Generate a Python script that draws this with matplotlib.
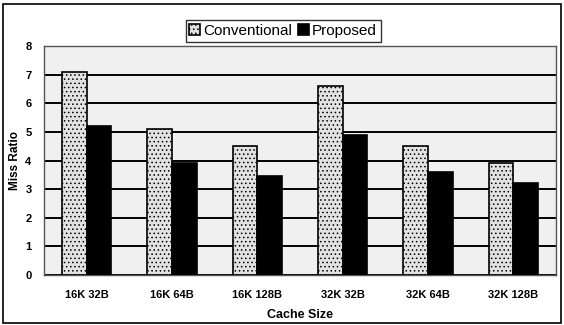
import numpy as np
import matplotlib
matplotlib.use("Agg")
import matplotlib.pyplot as plt
from matplotlib.patches import Rectangle

# miss ratio per cache configuration
cache_sizes = ['16K 32B', '16K 64B', '16K 128B', '32K 32B', '32K 64B', '32K 128B']
conventional = [7.1, 5.1, 4.5, 6.6, 4.5, 3.9]
proposed = [5.2, 3.9, 3.45, 4.9, 3.6, 3.2]

plt.rcParams['font.family'] = ['Liberation Sans', 'DejaVu Sans']
plt.rcParams['hatch.color'] = '#8a8a8a'
plt.rcParams['hatch.linewidth'] = 0.6

fig = plt.figure(figsize=(5.64, 3.25), dpi=100)
ax = fig.add_axes([0.078, 0.154, 0.908, 0.704])

x = np.arange(len(cache_sizes))
w = 0.29
ax.set_facecolor('#f0f0f0')
ax.bar(x - w / 2, conventional, w, color='#e2e2e2', edgecolor='black',
       linewidth=1.2, hatch='....', label='Conventional', zorder=3)
ax.bar(x + w / 2, proposed, w, color='black', edgecolor='black',
       linewidth=1.2, label='Proposed', zorder=3)

ax.set_xlim(-0.5, len(cache_sizes) - 0.5)
ax.set_ylim(0, 8)
ax.set_yticks(range(0, 9))
ax.yaxis.grid(True, color='black', linewidth=1.4, zorder=1)
ax.set_axisbelow(True)
ax.tick_params(length=0, labelsize=8)
ax.tick_params(axis='x', pad=11)
ax.tick_params(axis='y', pad=9)
ax.set_xticks(x)
ax.set_xticklabels(cache_sizes, fontweight='bold')
for t in ax.get_yticklabels():
    t.set_fontweight('bold')
for s in ax.spines.values():
    s.set_color('#555555')
    s.set_linewidth(1.0)

ax.set_ylabel('Miss Ratio', fontsize=8.5, fontweight='bold')
ax.yaxis.set_label_coords(-0.045, 0.5)
ax.set_xlabel('Cache Size', fontsize=9, fontweight='bold', labelpad=6)

leg = fig.legend(loc='upper center', bbox_to_anchor=(0.502, 0.962), ncol=2,
                 frameon=True, fontsize=11, handlelength=0.7, handleheight=0.7,
                 handletextpad=0.2, columnspacing=0.4, borderpad=0.25,
                 fancybox=False, edgecolor='black')
leg.get_frame().set_linewidth(1.0)

# outer frame around the whole chart
fig.add_artist(Rectangle((0.006, 0.006), 0.988, 0.982, transform=fig.transFigure,
                         fill=False, edgecolor='black', linewidth=1.2))

fig.savefig('out.png', dpi=100)
